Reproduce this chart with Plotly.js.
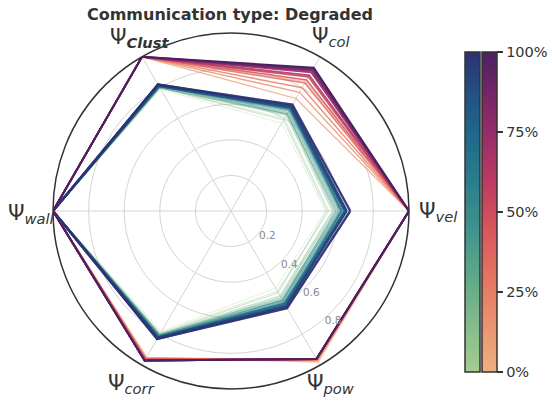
<!DOCTYPE html>
<html><head><meta charset="utf-8">
<script src="https://cdn.plot.ly/plotly-3.0.1.min.js"></script>
<style>html,body{margin:0;padding:0;background:#fff}#chart{width:552px;height:401px}</style>
</head><body><div id="chart"></div>
<script>
const categories = ["vel","col","clust","wall","corr","pow"];
const tickLabels = ["Ψ<sub><i>vel</i></sub>","Ψ<sub><i>col</i></sub>","Ψ<sub><b><i>Clust</i></b></sub>","Ψ<sub><i>wall</i></sub>","Ψ<sub><i>corr</i></sub>","Ψ<sub><i>pow</i></sub>"];
const radialTicks = [0.2,0.4,0.6,0.8];
const colorbarTicks = [0,0.25,0.5,0.75,1];
const colorbarLabels = ["0%","25%","50%","75%","100%"];

// Crest group (light green -> dark blue), one entry per run
const crestVel   = [0.53,0.55,0.54,0.57,0.58,0.60,0.59,0.61,0.62,0.63,0.62,0.64,0.65,0.64,0.65,0.67];
const crestCol   = [0.57,0.60,0.59,0.62,0.63,0.64,0.63,0.65,0.66,0.66,0.67,0.67,0.68,0.67,0.68,0.69];
const crestClust = [0.79,0.80,0.80,0.80,0.81,0.81,0.80,0.81,0.81,0.82,0.81,0.82,0.82,0.81,0.82,0.82];
const crestWall  = [1,1,1,1,1,1,1,1,1,1,1,1,1,1,1,1];
const crestCorr  = [0.78,0.79,0.80,0.80,0.81,0.80,0.81,0.81,0.82,0.81,0.82,0.82,0.82,0.83,0.82,0.83];
const crestPow   = [0.50,0.52,0.53,0.55,0.56,0.57,0.58,0.58,0.59,0.60,0.61,0.60,0.61,0.62,0.62,0.63];

// Flare group (peach -> purple)
const flareVel   = [1,1,1,1,1,1,1,1,1,1,1,1];
const flareCol   = [0.84,0.73,0.77,0.80,0.83,0.85,0.87,0.88,0.90,0.91,0.92,0.93];
const flareClust = [1,1,1,1,1,1,1,1,1,1,1,1];
const flareWall  = [1,1,1,1,1,1,1,1,1,1,1,1];
const flareCorr  = [0.95,0.95,0.96,0.96,0.96,0.96,0.97,0.97,0.97,0.97,0.97,0.97];
const flarePow   = [0.98,0.97,0.97,0.97,0.96,0.96,0.96,0.96,0.96,0.96,0.96,0.96];

const crestScale = [[0,"#a5cd90"],[0.15,"#83bb8b"],[0.3,"#5ea88a"],[0.45,"#40928c"],[0.6,"#2b7d8c"],[0.75,"#1e678a"],[0.88,"#254e82"],[1,"#2c3172"]];
const flareScale = [[0,"#edb081"],[0.15,"#ea9370"],[0.3,"#e47460"],[0.45,"#d8555d"],[0.6,"#bd3a62"],[0.75,"#962c6a"],[0.88,"#722567"],[1,"#4b2161"]];

function hexToRgb(h){return [parseInt(h.slice(1,3),16),parseInt(h.slice(3,5),16),parseInt(h.slice(5,7),16)];}
function sample(scale,t){
  for(let i=1;i<scale.length;i++){
    if(t<=scale[i][0]){
      const a=scale[i-1],b=scale[i];const f=(t-a[0])/(b[0]-a[0]);
      const ca=hexToRgb(a[1]),cb=hexToRgb(b[1]);
      return ca.map((v,k)=>Math.round(v+(cb[k]-v)*f));
    }
  }
  return hexToRgb(scale[scale.length-1][1]);
}
const traces=[];
function addGroup(vals,scale,alphaMin,alphaMax,wMin,wMax){
  const n=vals[0].length;
  for(let i=0;i<n;i++){
    const t=n>1?i/(n-1):1;
    const c=sample(scale,t);
    const a=alphaMin+(alphaMax-alphaMin)*t;
    const r=vals.map(v=>v[i]);
    traces.push({type:"scatterpolar",mode:"lines",r:r.concat([r[0]]),theta:categories.concat([categories[0]]),
      line:{color:`rgba(${c[0]},${c[1]},${c[2]},${a})`,width:wMin+(wMax-wMin)*t},hoverinfo:"skip",showlegend:false});
  }
}
addGroup([crestVel,crestCol,crestClust,crestWall,crestCorr,crestPow],crestScale,0.3,0.95,1,2.4);
addGroup([flareVel,flareCol,flareClust,flareWall,flareCorr,flarePow],flareScale,0.75,1,1.2,2);

const cbY=1-212/401;
traces.push({type:"scatterpolar",mode:"markers",r:[0,0],theta:["vel","vel"],hoverinfo:"skip",showlegend:false,
  marker:{size:0.1,opacity:0,color:[0,1],cmin:0,cmax:1,colorscale:crestScale,showscale:true,
    colorbar:{x:465/552,xanchor:"left",xpad:0,ypad:0,thickness:15,len:320,lenmode:"pixels",y:cbY,yanchor:"middle",
      outlinecolor:"#333",outlinewidth:1.5,showticklabels:false,ticks:"",borderwidth:0}}});
traces.push({type:"scatterpolar",mode:"markers",r:[0,0],theta:["vel","vel"],hoverinfo:"skip",showlegend:false,
  marker:{size:0.1,opacity:0,color:[0,1],cmin:0,cmax:1,colorscale:flareScale,showscale:true,
    colorbar:{x:482/552,xanchor:"left",xpad:0,ypad:0,thickness:15,len:320,lenmode:"pixels",y:cbY,yanchor:"middle",
      outlinecolor:"#333",outlinewidth:1.5,borderwidth:0,tickmode:"array",tickvals:colorbarTicks,ticktext:colorbarLabels,
      ticks:"outside",ticklen:6,tickwidth:1.5,tickcolor:"#333",tickfont:{family:"DejaVu Sans",size:14.5,color:"#333"}}}});

// angular labels placed as annotations centred on each spoke (matplotlib style)
const cx=231, cy=211, R=178;
const labelOffsets=[{k:1.17,dx:-1,dy:1},{k:1.13,dx:0,dy:0},{k:1.12,dx:9,dy:0},{k:1.12,dx:0,dy:3},{k:1.12,dx:0,dy:0},{k:1.12,dx:0,dy:0}];
const annotations=categories.map((c,i)=>{
  const ang=i*Math.PI/3, o=labelOffsets[i];
  const px=cx+o.k*R*Math.cos(ang)+o.dx, py=cy-o.k*R*Math.sin(ang)+o.dy;
  return {text:tickLabels[i],xref:"paper",yref:"paper",x:px/552,y:1-py/401,xanchor:"center",yanchor:"middle",
    showarrow:false,font:{family:"DejaVu Sans",size:21,color:"#333"}};
});

const layout={
  width:552,height:401,margin:{l:0,r:0,t:0,b:0},paper_bgcolor:"#fff",showlegend:false,
  font:{family:"DejaVu Sans",color:"#333"},
  title:{text:"<b>Communication type: Degraded</b>",x:230/552,xanchor:"center",y:1-14/401,yanchor:"middle",
    font:{family:"DejaVu Sans",size:16,color:"#333"}},
  annotations:annotations,
  polar:{domain:{x:[53/552,409/552],y:[1-389/401,1-33/401]},bgcolor:"#fff",
    radialaxis:{range:[0,1],tickvals:radialTicks,angle:-52,showline:false,ticks:"",gridcolor:"#d4d4d4",gridwidth:1,
      tickfont:{family:"DejaVu Sans",size:10.5,color:"#888"},tickangle:-52,side:"counterclockwise"},
    angularaxis:{type:"category",categoryarray:categories,rotation:0,direction:"counterclockwise",
      tickmode:"array",tickvals:categories,ticktext:tickLabels,ticks:"",showticklabels:false,
      showline:true,linecolor:"#333",linewidth:1.5,gridcolor:"#d4d4d4",gridwidth:1,
      tickfont:{family:"DejaVu Sans",size:20,color:"#333"}}}
};
Plotly.newPlot("chart",traces,layout,{displayModeBar:false,staticPlot:true});
</script></body></html>
